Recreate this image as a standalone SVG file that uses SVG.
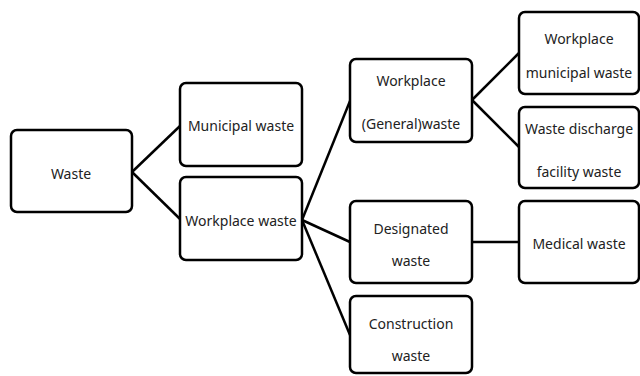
<svg xmlns="http://www.w3.org/2000/svg" width="640" height="376" viewBox="0 0 640 376">
<style>
.box{fill:#fff;stroke:#000;stroke-width:2.5}
.lbl{font-family:"Noto Sans","Open Sans",sans-serif;font-size:14px;fill:#222;text-anchor:middle;dominant-baseline:central}
.con line{stroke:#000;stroke-width:2.5}
</style>
<rect width="640" height="376" fill="#fff"/>
<g class="con" id="connectors">
<line x1="132" y1="172" x2="180" y2="126"/>
<line x1="132" y1="172" x2="180" y2="219"/>
<line x1="302" y1="220" x2="350" y2="101"/>
<line x1="302" y1="220" x2="350" y2="242"/>
<line x1="302" y1="220" x2="350" y2="335"/>
<line x1="472" y1="100" x2="519" y2="53"/>
<line x1="472" y1="100" x2="519" y2="147"/>
<line x1="472" y1="242" x2="519" y2="242"/>
</g>
<g id="waste"><rect class="box" x="11" y="130" width="121" height="82" rx="6"/><text class="lbl" x="71" y="173">Waste</text></g>
<g id="municipal"><rect class="box" x="180" y="83" width="122" height="83" rx="6"/><text class="lbl" x="241" y="125">Municipal waste</text></g>
<g id="workplace"><rect class="box" x="180" y="177" width="122" height="83" rx="6"/><text class="lbl" x="241" y="220">Workplace waste</text></g>
<g id="general"><rect class="box" x="350" y="59" width="122" height="83" rx="6"/><text class="lbl" x="411" y="80">Workplace</text><text class="lbl" x="411" y="123">(General)waste</text></g>
<g id="wpmunicipal"><rect class="box" x="519" y="12" width="120" height="82" rx="6"/><text class="lbl" x="579" y="38">Workplace</text><text class="lbl" x="579" y="72">municipal waste</text></g>
<g id="discharge"><rect class="box" x="519" y="107" width="120" height="81" rx="6"/><text class="lbl" x="579" y="128">Waste discharge</text><text class="lbl" x="579" y="171">facility waste</text></g>
<g id="designated"><rect class="box" x="350" y="201" width="122" height="82" rx="6"/><text class="lbl" x="411" y="228">Designated</text><text class="lbl" x="411" y="260">waste</text></g>
<g id="medical"><rect class="box" x="519" y="201" width="120" height="82" rx="6"/><text class="lbl" x="579" y="243">Medical waste</text></g>
<g id="construction"><rect class="box" x="350" y="296" width="122" height="77" rx="6"/><text class="lbl" x="411" y="323">Construction</text><text class="lbl" x="411" y="355">waste</text></g>
</svg>
